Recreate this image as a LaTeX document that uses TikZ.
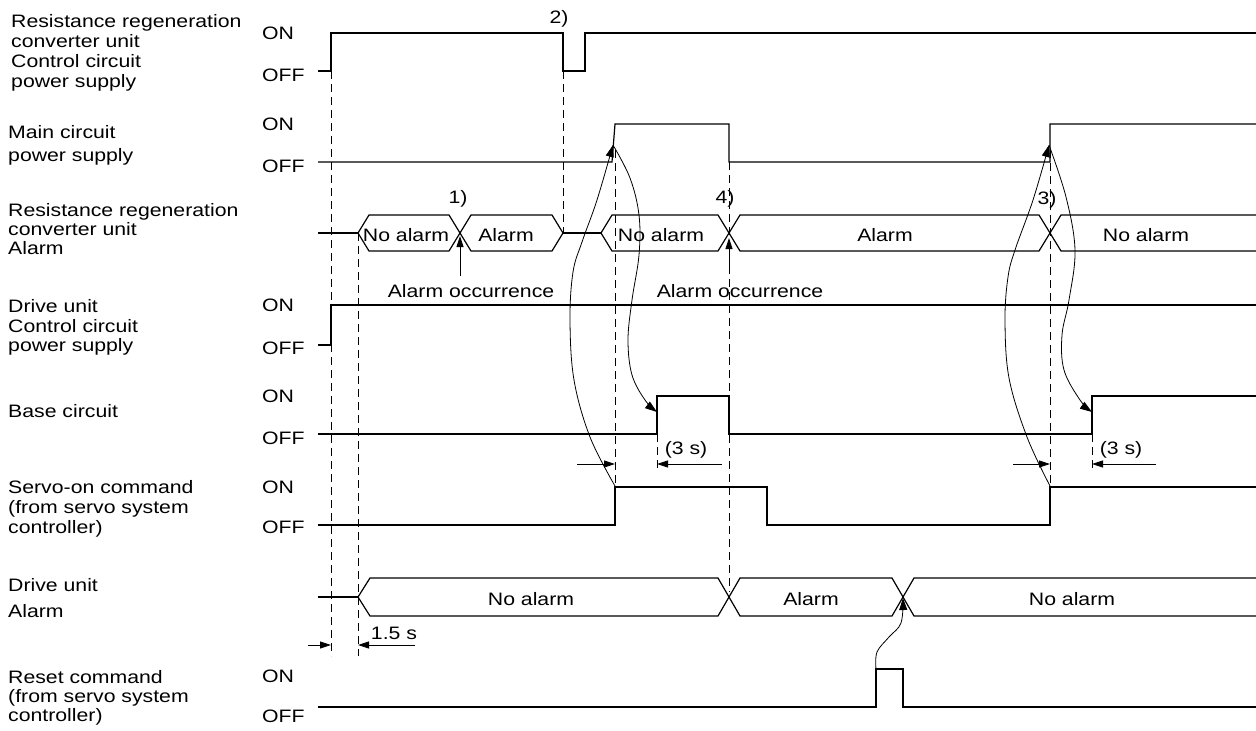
\documentclass[tikz,border=0pt]{standalone}
\usepackage{fontspec}
\setmainfont{Liberation Sans}[FakeStretch=1.18]
\usetikzlibrary{arrows.meta}
\begin{document}
\begin{tikzpicture}[x=1pt,y=-1pt,
  every node/.style={font=\fontsize{18}{21}\selectfont, inner sep=0pt},
  sig/.style={line width=1.2pt, line join=miter},
  bus/.style={line width=1.2pt, line join=miter},
  guide/.style={line width=0.8pt, dash pattern=on 8pt off 5pt},
  flow/.style={line width=0.8pt, -{Triangle[length=12pt,width=8pt]}},
  dimarrow/.style={line width=0.8pt, -{Triangle[length=11pt,width=7pt]}},
  lbl/.style={anchor=base west},
  lvl/.style={anchor=west},
  bustext/.style={anchor=base},
]
\useasboundingbox (0,0) rectangle (1256,731);

% ---------- left labels ----------
\node[lbl] (a1) at (11,27) {Resistance regeneration};
\node[lbl] (a2) at (11,47) {converter unit};
\node[lbl] (a3) at (11,67) {Control circuit};
\node[lbl] (a4) at (11,87) {power supply};
\node[lbl] (b1) at (8,138) {Main circuit};
\node[lbl] (b2) at (8,161) {power supply};
\node[lbl] (c1) at (8,216) {Resistance regeneration};
\node[lbl] (c2) at (8,235) {converter unit};
\node[lbl] (c3) at (8,254) {Alarm};
\node[lbl] (d1) at (8,312) {Drive unit};
\node[lbl] (d2) at (8,332) {Control circuit};
\node[lbl] (d3) at (8,351) {power supply};
\node[lbl] (e1) at (8,417) {Base circuit};
\node[lbl] (f1) at (8,493) {Servo-on command};
\node[lbl] (f2) at (8,513) {(from servo system};
\node[lbl] (f3) at (8,533) {controller)};
\node[lbl] (g1) at (8,591) {Drive unit};
\node[lbl] (g2) at (8,617) {Alarm};
\node[lbl] (h1) at (8,683) {Reset command};
\node[lbl] (h2) at (8,702) {(from servo system};
\node[lbl] (h3) at (8,721) {controller)};

% ---------- ON / OFF ----------
\node[lvl] (on1) at (262,33) {ON};
\node[lvl] (off1) at (262,75) {OFF};
\node[lvl] (on2) at (262,124) {ON};
\node[lvl] (off2) at (262,166) {OFF};
\node[lvl] (on4) at (262,305) {ON};
\node[lvl] (off4) at (262,348) {OFF};
\node[lvl] (on5) at (262,396) {ON};
\node[lvl] (off5) at (262,438) {OFF};
\node[lvl] (on6) at (262,487) {ON};
\node[lvl] (off6) at (262,527) {OFF};
\node[lvl] (on8) at (262,676) {ON};
\node[lvl] (off8) at (262,716) {OFF};

% ---------- dashed guides ----------
\draw[guide] (331,71) -- (331,656);
\draw[guide] (358,233) -- (358,656);
\draw[guide] (563,71) -- (563,233);
\draw[guide] (615,150) -- (615,487);
\draw[guide] (657,434) -- (657,472);
\draw[guide] (729,162) -- (729,592);
\draw[guide] (1050,150) -- (1050,487);
\draw[guide] (1092,434) -- (1092,472);

% ---------- row 1 ----------
\draw[sig] (318,71) -- (331,71) -- (331,33) -- (563,33) -- (563,71) -- (585,71) -- (585,33) -- (1256,33);
% ---------- row 2 ----------
\draw[sig] (318,162) -- (612,162) -- (615,124) -- (729,124) -- (729,162) -- (1050,162) -- (1050,124) -- (1256,124);
% ---------- row 3 bus ----------
\draw[bus] (318,233) -- (358,233);
\draw[bus] (358,233) -- (369,215) -- (449,215) -- (460,233) -- (449,251) -- (369,251) -- cycle;
\draw[bus] (460,233) -- (471,215) -- (552,215) -- (563,233) -- (552,251) -- (471,251) -- cycle;
\draw[bus] (563,233) -- (601,233);
\draw[bus] (601,233) -- (612,215) -- (718,215) -- (729,233) -- (718,251) -- (612,251) -- cycle;
\draw[bus] (729,233) -- (740,215) -- (1039,215) -- (1050,233) -- (1039,251) -- (740,251) -- cycle;
\draw[bus] (1256,215) -- (1061,215) -- (1050,233) -- (1061,251) -- (1256,251);
\node[bustext] (t31) at (406,241) {No alarm};
\node[bustext] (t32) at (506,241) {Alarm};
\node[bustext] (t33) at (661,241) {No alarm};
\node[bustext] (t34) at (885,241) {Alarm};
\node[bustext] (t35) at (1146,241) {No alarm};
\node (n1) at (458,199) {1)};
\node (n2) at (559,19) {2)};
\node (n4) at (725,199) {4)};
\node (n3) at (1047,200) {3)};
% alarm occurrence
\node[bustext] (ao1) at (471,297) {Alarm occurrence};
\node[bustext] (ao2) at (740,297) {Alarm occurrence};
\coordinate (ao1s) at (460,276);
\coordinate (ao1e) at (460,236);
\coordinate (ao2s) at (729,272);
\coordinate (ao2e) at (729,238);
\draw[dimarrow] (ao1s) -- (ao1e);
\draw[dimarrow] (ao2s) -- (ao2e);

% ---------- row 4 ----------
\draw[sig] (318,345) -- (331,345) -- (331,305) -- (1256,305);
% ---------- row 5 ----------
\draw[sig] (318,434) -- (657,434) -- (657,396) -- (729,396) -- (729,434) -- (1092,434) -- (1092,396) -- (1256,396);
% ---------- row 6 ----------
\draw[sig] (318,525) -- (615,525) -- (615,487) -- (767,487) -- (767,525) -- (1050,525) -- (1050,487) -- (1256,487);
% ---------- row 7 bus ----------
\draw[bus] (318,597) -- (358,597);
\draw[bus] (358,597) -- (370,578) -- (718,578) -- (729,597) -- (718,616) -- (370,616) -- cycle;
\draw[bus] (729,597) -- (740,578) -- (892,578) -- (903,597) -- (892,616) -- (740,616) -- cycle;
\draw[bus] (1256,578) -- (914,578) -- (903,597) -- (914,616) -- (1256,616);
\node[bustext] (t71) at (531,605) {No alarm};
\node[bustext] (t72) at (811,605) {Alarm};
\node[bustext] (t73) at (1072,605) {No alarm};
% ---------- row 8 ----------
\draw[sig] (318,707) -- (876,707) -- (876,669) -- (903,669) -- (903,707) -- (1256,707);

% ---------- dimensions ----------
\coordinate (d1a) at (577,464); \coordinate (d1b) at (615,464);
\coordinate (d1c) at (722,464); \coordinate (d1d) at (657,464);
\draw[dimarrow] (d1a) -- (d1b);
\draw[dimarrow] (d1c) -- (d1d);
\node (ts1) at (686,450) {(3 s)};
\coordinate (d2a) at (1013,464); \coordinate (d2b) at (1050,464);
\coordinate (d2c) at (1156,464); \coordinate (d2d) at (1092,464);
\draw[dimarrow] (d2a) -- (d2b);
\draw[dimarrow] (d2c) -- (d2d);
\node (ts2) at (1121,450) {(3 s)};
\coordinate (d3a) at (308,645); \coordinate (d3b) at (331,645);
\coordinate (d3c) at (415,645); \coordinate (d3d) at (358,645);
\draw[dimarrow] (d3a) -- (d3b);
\draw[dimarrow] (d3c) -- (d3d);
\node[bustext] (ts3) at (394,639) {1.5 s};

% ---------- causal curves ----------
\coordinate (sA) at (615,486);
\coordinate (eA) at (613,145);
\coordinate (eB) at (657,412);
\coordinate (sC) at (1050,486);
\coordinate (eC) at (1049,145);
\coordinate (eD) at (1092,412);
\coordinate (sE) at (876,669);
\coordinate (eE) at (903,598);
\draw[flow] plot[smooth, tension=0.6] coordinates {(sA) (590,437) (574,380) (570,320) (573,272) (582,242) (597,200) (eA)};
\draw[flow] plot[smooth, tension=0.6] coordinates {(eA) (630,178) (639,215) (639,255) (632,300) (628,340) (632,375) (645,400) (eB)};
\draw[flow] plot[smooth, tension=0.6] coordinates {(sC) (1027,437) (1009,378) (1005,320) (1008,277) (1015,250) (1033,200) (eC)};
\draw[flow] plot[smooth, tension=0.6] coordinates {(eC) (1066,197) (1075,250) (1069,300) (1062,335) (1064,370) (1080,400) (eD)};
\draw[flow] plot[smooth, tension=0.6] coordinates {(sE) (877,652) (889,637) (901,623) (eE)};
\end{tikzpicture}
\end{document}
